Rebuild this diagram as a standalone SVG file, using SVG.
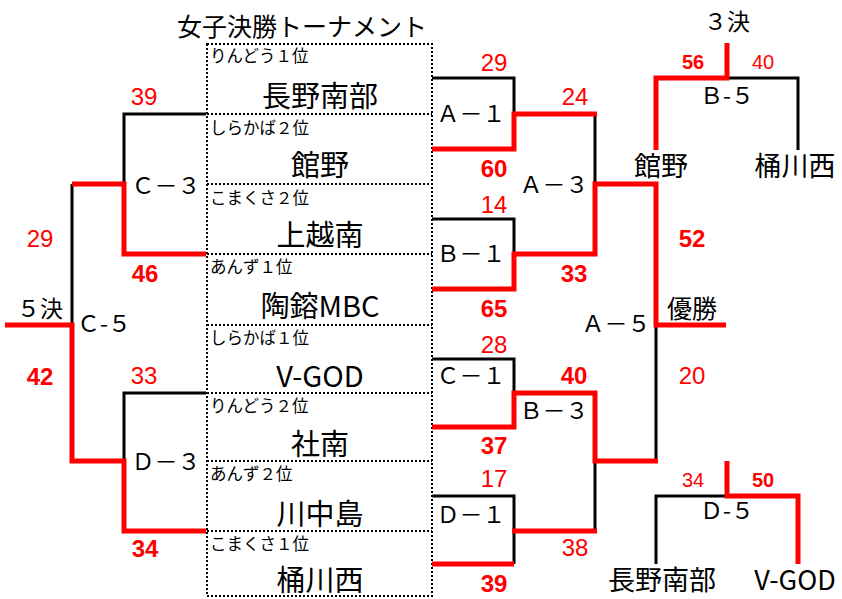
<svg xmlns="http://www.w3.org/2000/svg" width="842" height="599" viewBox="0 0 842 599">
<style>
.jp{font-family:"Noto Sans CJK JP","Noto Sans",sans-serif;fill:#000}
.t{font-size:25px;text-anchor:middle}
.team{font-size:29px;text-anchor:middle}
.rteam{font-size:27px;text-anchor:middle}
.seed{font-size:16.5px}
.lbl{font-size:23px;text-anchor:middle}
.sc{font-family:"Liberation Sans",Arial,sans-serif;font-size:24px;fill:#f00;text-anchor:middle}
.sm{font-size:20px}
.b{font-weight:bold}
.blk{fill:none;stroke:#000;stroke-width:3}
.red{fill:none;stroke:#f00;stroke-width:5}
.dot{fill:none;stroke:#000;stroke-width:2;stroke-dasharray:2 2}
</style>
<rect width="842" height="599" fill="#fff"/>
<text class="jp t" x="302" y="36">女子決勝トーナメント</text>
<g id="entries">
<rect class="dot" x="207" y="44" width="225" height="552"/>
<path class="dot" d="M207,114H432M207,184H432M207,254H432M207,325H432M207,393H432M207,461H432M207,531H432"/>
<g id="e1"><text class="jp seed" x="210" y="62">りんどう１位</text><text class="jp team" x="320" y="107">長野南部</text></g>
<g id="e2"><text class="jp seed" x="210" y="134">しらかば２位</text><text class="jp team" x="320" y="176">館野</text></g>
<g id="e3"><text class="jp seed" x="210" y="204">こまくさ２位</text><text class="jp team" x="320" y="246">上越南</text></g>
<g id="e4"><text class="jp seed" x="210" y="273">あんず１位</text><text class="jp team" x="320" y="317">陶鎔MBC</text></g>
<g id="e5"><text class="jp seed" x="210" y="344">しらかば１位</text><text class="jp team" x="320" y="387">V-GOD</text></g>
<g id="e6"><text class="jp seed" x="210" y="412">りんどう２位</text><text class="jp team" x="320" y="455">社南</text></g>
<g id="e7"><text class="jp seed" x="210" y="480">あんず２位</text><text class="jp team" x="320" y="525">川中島</text></g>
<g id="e8"><text class="jp seed" x="210" y="550">こまくさ１位</text><text class="jp team" x="320" y="591">桶川西</text></g>
</g>
<g id="connectors">
<path class="blk" d="M206,114H124V184M72,184V325M206,393H124V461"/>
<path class="blk" d="M432,78H514V114M595,114V184M432,219H514V254M656,325V461M432,359H514V393M595,461V531M432,496H514V564M727,78H798V150M656,564V496H727"/>
<path class="red" d="M206,254H124V184H72M5,325H72V461H124V531H206"/>
<path class="red" d="M432,149H514V114H597M432,289H514V254H595V184H656V325H726M656,150V78H727V43M432,427H514V393H595V461H658M432,564H514M512,531H597M727,461V496H798V564"/>
</g>
<g id="matches">
<g id="C3"><text class="jp lbl" x="166" y="194">Ｃ－３</text><text class="sc" x="144" y="105">39</text><text class="sc b" x="145" y="282">46</text></g>
<g id="D3"><text class="jp lbl" x="166" y="470">Ｄ－３</text><text class="sc" x="144" y="384">33</text><text class="sc b" x="145" y="557">34</text></g>
<g id="C5"><text class="jp lbl" x="40" y="317">５決</text><text class="jp lbl" x="104" y="332">Ｃ-５</text><text class="sc" x="40" y="247">29</text><text class="sc b" x="40" y="385">42</text></g>
<g id="A1"><text class="jp lbl" x="471" y="122">Ａ－１</text><text class="sc" x="494" y="71">29</text><text class="sc b" x="494" y="177">60</text></g>
<g id="B1"><text class="jp lbl" x="471" y="262">Ｂ－１</text><text class="sc" x="494" y="213">14</text><text class="sc b" x="494" y="317">65</text></g>
<g id="C1"><text class="jp lbl" x="471" y="384">Ｃ－１</text><text class="sc" x="494" y="353">28</text><text class="sc b" x="494" y="454">37</text></g>
<g id="D1"><text class="jp lbl" x="471" y="523">Ｄ－１</text><text class="sc" x="494" y="487">17</text><text class="sc b" x="494" y="592">39</text></g>
<g id="A3"><text class="jp lbl" x="554" y="193">Ａ－３</text><text class="sc" x="575" y="105">24</text><text class="sc b" x="574" y="282">33</text></g>
<g id="B3"><text class="jp lbl" x="554" y="419">Ｂ－３</text><text class="sc b" x="574" y="384">40</text><text class="sc" x="575" y="556">38</text></g>
<g id="A5"><text class="jp lbl" x="616" y="332">Ａ－５</text><text class="jp t" x="692" y="318">優勝</text><text class="sc b" x="692" y="247">52</text><text class="sc" x="692" y="384">20</text></g>
<g id="B5"><text class="jp lbl" x="727" y="30">３決</text><text class="jp lbl" x="727" y="104">Ｂ-５</text><text class="sc sm b" x="693" y="69">56</text><text class="sc sm" x="763" y="69">40</text><text class="jp rteam" x="661" y="176">館野</text><text class="jp rteam" x="795" y="176">桶川西</text></g>
<g id="D5"><text class="jp lbl" x="727" y="519">Ｄ-５</text><text class="sc sm" x="693" y="487">34</text><text class="sc sm b" x="763" y="487">50</text><text class="jp rteam" x="662" y="590">長野南部</text><text class="jp rteam" x="795" y="590">V-GOD</text></g>
</g>
</svg>
